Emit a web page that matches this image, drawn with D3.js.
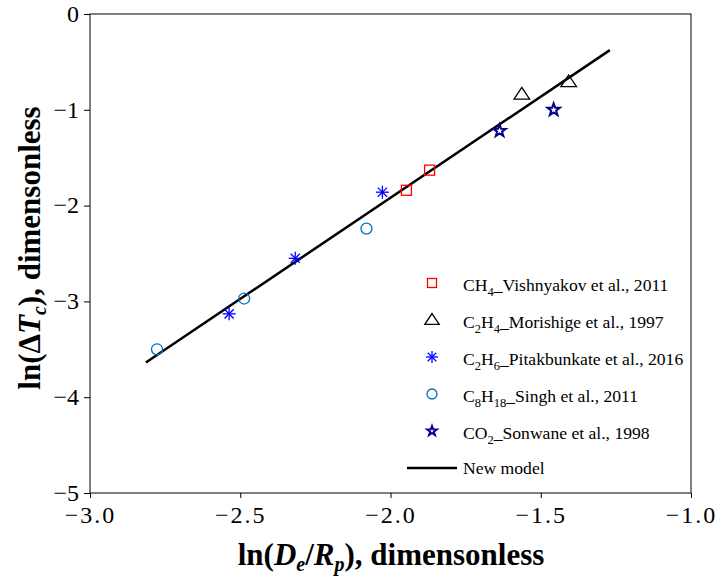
<!DOCTYPE html>
<html>
<head>
<meta charset="utf-8">
<script src="https://cdn.jsdelivr.net/npm/d3@7"></script>
<style>
  body { margin: 0; background: #fff; }
  svg { display: block; }
  text { font-family: "Liberation Serif", "Times New Roman", serif; }
</style>
</head>
<body>
<div id="chart"></div>
<script>
var W = 720, H = 578;
var margin = { left: 90, right: 29, top: 14, bottom: 85 };

// data
var ch4X = [-1.947, -1.870];
var ch4Y = [-1.84, -1.63];
var c2h4X = [-1.563, -1.407];
var c2h4Y = [-0.84, -0.71];
var c2h6X = [-2.537, -2.317, -2.027];
var c2h6Y = [-3.13, -2.55, -1.86];
var c8h18X = [-2.777, -2.487, -2.080];
var c8h18Y = [-3.50, -2.97, -2.24];
var co2X = [-1.637, -1.457];
var co2Y = [-1.22, -1.00];
var modelX = [-2.814, -1.270];
var modelY = [-3.637, -0.377];

var xTicks = [-3.0, -2.5, -2.0, -1.5, -1.0];
var yTicks = [0, -1, -2, -3, -4, -5];

var series = [
  { label: [["CH", 0], ["4", 1], ["_Vishnyakov et al., 2011", 0]], xs: ch4X, ys: ch4Y, shape: "square", color: "#ff0000" },
  { label: [["C", 0], ["2", 1], ["H", 0], ["4", 1], ["_Morishige et al., 1997", 0]], xs: c2h4X, ys: c2h4Y, shape: "triangle", color: "#000000" },
  { label: [["C", 0], ["2", 1], ["H", 0], ["6", 1], ["_Pitakbunkate et al., 2016", 0]], xs: c2h6X, ys: c2h6Y, shape: "asterisk", color: "#0000ff" },
  { label: [["C", 0], ["8", 1], ["H", 0], ["18", 1], ["_Singh et al., 2011", 0]], xs: c8h18X, ys: c8h18Y, shape: "circle", color: "#0072bd" },
  { label: [["CO", 0], ["2", 1], ["_Sonwane et al., 1998", 0]], xs: co2X, ys: co2Y, shape: "star", color: "#00008b" }
];

var svg = d3.select("#chart").append("svg").attr("width", W).attr("height", H);

var x = d3.scaleLinear().domain([-3, -1]).range([margin.left, W - margin.right]);
var y = d3.scaleLinear().domain([-5, 0]).range([H - margin.bottom, margin.top]);

// frame
svg.append("rect")
  .attr("x", x(-3)).attr("y", y(0))
  .attr("width", x(-1) - x(-3)).attr("height", y(-5) - y(0))
  .attr("fill", "none").attr("stroke", "#000").attr("stroke-width", 1);

var minus = function (s) { return s.replace("-", "\u2212"); };

var xAxis = svg.append("g")
  .attr("transform", "translate(0," + y(-5) + ")")
  .call(d3.axisBottom(x).tickValues(xTicks).tickSize(5).tickPadding(8)
    .tickFormat(function (d) { return minus(d3.format(".1f")(d)); }));
xAxis.attr("font-size", 24);
xAxis.select(".domain").remove();
xAxis.selectAll("text").attr("letter-spacing", 2).attr("fill", "#000");

var yAxis = svg.append("g")
  .attr("transform", "translate(" + x(-3) + ",0)")
  .call(d3.axisLeft(y).tickValues(yTicks).tickSize(6).tickPadding(5)
    .tickFormat(function (d) { return minus(d3.format("d")(d)); }));
yAxis.attr("font-size", 24);
yAxis.select(".domain").remove();
yAxis.selectAll("text").attr("fill", "#000").attr("dy", "0.3em");

// model line
var line = d3.line().x(function (d) { return x(d[0]); }).y(function (d) { return y(d[1]); });
svg.append("path")
  .datum(d3.zip(modelX, modelY))
  .attr("d", line)
  .attr("fill", "none").attr("stroke", "#000").attr("stroke-width", 2.5);

function drawMarker(g, shape, color, size) {
  var s = size;
  if (shape === "square") {
    g.append("rect").attr("x", -s / 2).attr("y", -s / 2).attr("width", s).attr("height", s)
      .attr("fill", "none").attr("stroke", color).attr("stroke-width", 1.3);
  } else if (shape === "triangle") {
    var h = s * 0.9;
    g.append("path").attr("d", "M0," + (-h * 0.6) + "L" + (s * 0.6) + "," + (h * 0.4) + "L" + (-s * 0.6) + "," + (h * 0.4) + "Z")
      .attr("fill", "none").attr("stroke", color).attr("stroke-width", 1.3);
  } else if (shape === "circle") {
    g.append("circle").attr("r", s / 2).attr("fill", "none").attr("stroke", color).attr("stroke-width", 1.3);
  } else if (shape === "asterisk") {
    var r = s / 2;
    for (var i = 0; i < 4; i++) {
      var a = i * Math.PI / 4;
      g.append("line")
        .attr("x1", -r * Math.cos(a)).attr("y1", -r * Math.sin(a))
        .attr("x2", r * Math.cos(a)).attr("y2", r * Math.sin(a))
        .attr("stroke", color).attr("stroke-width", 1.3);
    }
  } else if (shape === "star") {
    var pts = [];
    for (var k = 0; k < 10; k++) {
      var rr = k % 2 === 0 ? s / 2 : s / 5;
      var ang = -Math.PI / 2 + k * Math.PI / 5;
      pts.push([rr * Math.cos(ang), rr * Math.sin(ang)]);
    }
    g.append("path").attr("d", "M" + pts.join("L") + "Z")
      .attr("fill", "none").attr("stroke", color).attr("stroke-width", 2);
  }
}

var sizes = { square: 10, triangle: 13, asterisk: 13, circle: 11, star: 13 };

series.forEach(function (s) {
  d3.zip(s.xs, s.ys).forEach(function (p) {
    var g = svg.append("g").attr("transform", "translate(" + x(p[0]) + "," + y(p[1]) + ")");
    drawMarker(g, s.shape, s.color, sizes[s.shape]);
  });
});

// legend
var legX = 432, legY0 = 283, legDy = 37;
series.forEach(function (s, i) {
  var cy = legY0 + i * legDy;
  var g = svg.append("g").attr("transform", "translate(" + legX + "," + cy + ")");
  drawMarker(g, s.shape, s.color, s.shape === "star" ? 10 : sizes[s.shape] - 1);
  var t = svg.append("text").attr("x", 463).attr("y", cy + 8).attr("font-size", 17.6).attr("fill", "#000");
  s.label.forEach(function (part, j) {
    var prev = j > 0 ? s.label[j - 1] : null;
    var dy = 0;
    if (part[1] && !(prev && prev[1])) dy = 5;
    if (!part[1] && prev && prev[1]) dy = -5;
    var ts = t.append("tspan").attr("dy", dy).text(part[0]);
    if (part[1]) ts.attr("font-size", 12.5);
  });
});
var lineY = legY0 + 5 * legDy;
svg.append("line").attr("x1", 407).attr("x2", 457).attr("y1", lineY).attr("y2", lineY)
  .attr("stroke", "#000").attr("stroke-width", 2.5);
svg.append("text").attr("x", 463).attr("y", lineY + 6).attr("font-size", 17.6).text("New model");

// axis titles
var xt = svg.append("text").attr("x", 391).attr("y", 565).attr("text-anchor", "middle")
  .attr("font-size", 31).attr("font-weight", "bold");
xt.append("tspan").text("ln(");
xt.append("tspan").attr("font-style", "italic").text("D");
xt.append("tspan").attr("font-style", "italic").attr("font-size", 20).attr("dy", 6).text("e");
xt.append("tspan").attr("dy", -6).text("/");
xt.append("tspan").attr("font-style", "italic").text("R");
xt.append("tspan").attr("font-style", "italic").attr("font-size", 20).attr("dy", 6).text("p");
xt.append("tspan").attr("dy", -6).text("), dimensonless");

var yt = svg.append("text").attr("transform", "translate(40,248) rotate(-90)").attr("text-anchor", "middle")
  .attr("font-size", 31).attr("font-weight", "bold");
yt.append("tspan").text("ln(\u0394");
yt.append("tspan").attr("font-style", "italic").text("T");
yt.append("tspan").attr("font-style", "italic").attr("font-size", 20).attr("dy", 6).text("c");
yt.append("tspan").attr("dy", -6).text("), dimensonless");
</script>
</body>
</html>
